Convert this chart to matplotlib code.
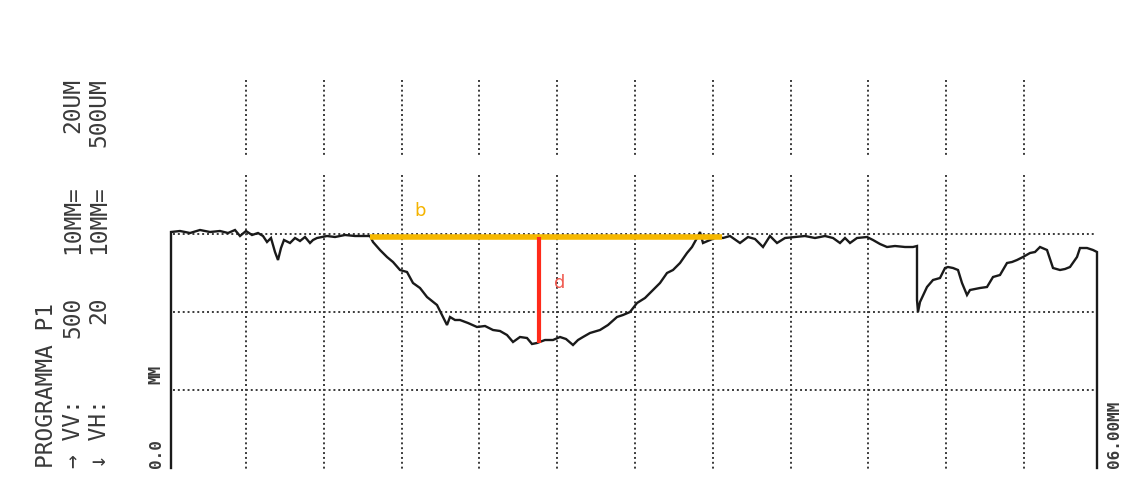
import matplotlib
matplotlib.use("Agg")
import matplotlib.pyplot as plt

# ---- data (pixel readings, converted to grid units below) ----
prof_px_x = [171, 171, 180, 190, 200, 210, 220, 228, 235, 240, 246, 252, 258, 263, 267, 271, 275, 278, 281,
             284, 290, 295, 300, 305, 310, 313, 317, 322, 327, 335, 345, 355, 362, 370,
             373, 380, 387, 393, 400, 407, 413, 420, 427, 432, 437, 443, 447, 450, 455, 460, 468, 477,
             485, 493, 500, 507, 513, 520, 527, 532, 537, 545, 553, 560, 566, 573, 578, 583, 590,
             600, 608, 617, 623, 630, 637, 645, 653, 660, 667, 673, 680, 687, 692, 697, 700, 703, 710,
             717, 723, 730, 740, 748, 755, 763, 770, 777, 785, 795, 805, 815, 825, 833, 840, 845, 850,
             857, 867, 873, 880, 887, 895, 905, 913, 917, 917, 918, 920, 927, 933, 940, 945, 948, 953,
             958, 962, 967, 970, 975, 980, 987, 993, 1000, 1007, 1012, 1017, 1023, 1030, 1035, 1040,
             1047, 1053, 1060, 1065, 1070, 1077, 1080, 1087, 1093, 1097, 1097]
prof_px_y = [468, 232, 231, 233, 230, 232, 231, 233, 230, 236, 231, 235, 233, 236, 242, 238, 252, 260, 248,
             240, 243, 238, 241, 237, 243, 240, 238, 237, 236, 237, 235, 236, 236, 236,
             242, 250, 257, 262, 270, 272, 283, 288, 297, 301, 305, 317, 325, 317, 320, 320, 323, 327,
             326, 330, 331, 335, 342, 337, 338, 344, 343, 340, 340, 337, 339, 345, 340, 337, 333,
             330, 325, 317, 315, 312, 303, 298, 290, 283, 273, 270, 263, 253, 247, 238, 232, 243, 240,
             237, 238, 236, 243, 237, 239, 247, 236, 243, 238, 237, 236, 238, 236, 238, 243, 238, 243,
             238, 237, 240, 244, 247, 246, 247, 247, 246, 300, 312, 302, 287, 280, 278, 268, 267, 268,
             270, 283, 295, 290, 289, 288, 287, 277, 275, 263, 262, 260, 257, 253, 252, 247,
             250, 268, 270, 269, 267, 257, 248, 248, 250, 252, 468]

X0, DX = 168.2, 77.8   # px = X0 + DX*x
Y0, DY = 468.0, 78.0   # py = Y0 - DY*y
prof_x = [(p - X0) / DX for p in prof_px_x]
prof_y = [(Y0 - p) / DY for p in prof_px_y]

grid_x = [1, 2, 3, 4, 5, 6, 7, 8, 9, 10, 11]
grid_y = [1, 2, 3]

b_x = [(370 - X0) / DX, (722 - X0) / DX]
b_y = (Y0 - 237) / DY
d_x = (539 - X0) / DX
d_y = [(Y0 - 237) / DY, (Y0 - 343) / DY]

W, H = 1131, 498
fig = plt.figure(figsize=(W / 100, H / 100), dpi=100)
ax = fig.add_axes([0, 0, 1, 1])
ax.set_xlim(-X0 / DX, (W - X0) / DX)
ax.set_ylim((Y0 - H) / DY, Y0 / DY)
ax.axis("off")

dot = dict(color="#3a3a3a", lw=1.4, ls=(0, (1, 1.5)))
top_seg = [(Y0 - 80) / DY, (Y0 - 155) / DY]
low_seg = [(Y0 - 175) / DY, (Y0 - 470) / DY]
for gx in grid_x:
    ax.plot([gx, gx], top_seg, **dot)
    ax.plot([gx, gx], low_seg, **dot)
x_left = (173 - X0) / DX
x_right = (1095 - X0) / DX
for gy in grid_y:
    ax.plot([x_left, x_right], [gy, gy], **dot)

ax.plot(prof_x, prof_y, color="#1a1a1a", lw=1.7, solid_joinstyle="miter")

ax.plot(b_x, [b_y, b_y], color="#f6b800", lw=4, solid_capstyle="butt")
ax.plot([d_x, d_x], d_y, color="#ff2a1a", lw=3, solid_capstyle="butt")
ax.text((420 - X0) / DX, (Y0 - 211) / DY, "b", color="#f5b400", fontsize=13, ha="center", va="center")
ax.text((560 - X0) / DX, (Y0 - 283) / DY, "d", color="#f05a50", fontsize=13, ha="center", va="center")

def px_text(px, py, s, va="bottom", size=16.5, weight="normal"):
    ax.text((px - X0) / DX, (Y0 - py) / DY, s, family="DejaVu Sans Mono", fontsize=size,
            color="#3a3a3a", rotation=90, ha="center", va=va, fontweight=weight)

px_text(47, 468, "PROGRAMMA P1")
px_text(73, 468, "→ VV:")
px_text(99, 468, "↓ VH:")
px_text(73, 297, "500", va="top")
px_text(99, 297, "20", va="top")
px_text(73, 185, "10MM=", va="top")
px_text(99, 185, "10MM=", va="top")
px_text(73, 78, "20UM", va="top")
px_text(99, 78, "500UM", va="top")
px_text(156, 468, "0.0", size=11.5, weight="bold")
px_text(156, 365, "MM", va="top", size=11.5, weight="bold")
px_text(1114, 468, "06.00MM", size=11.5, weight="bold")

fig.savefig("out.png", dpi=100)
